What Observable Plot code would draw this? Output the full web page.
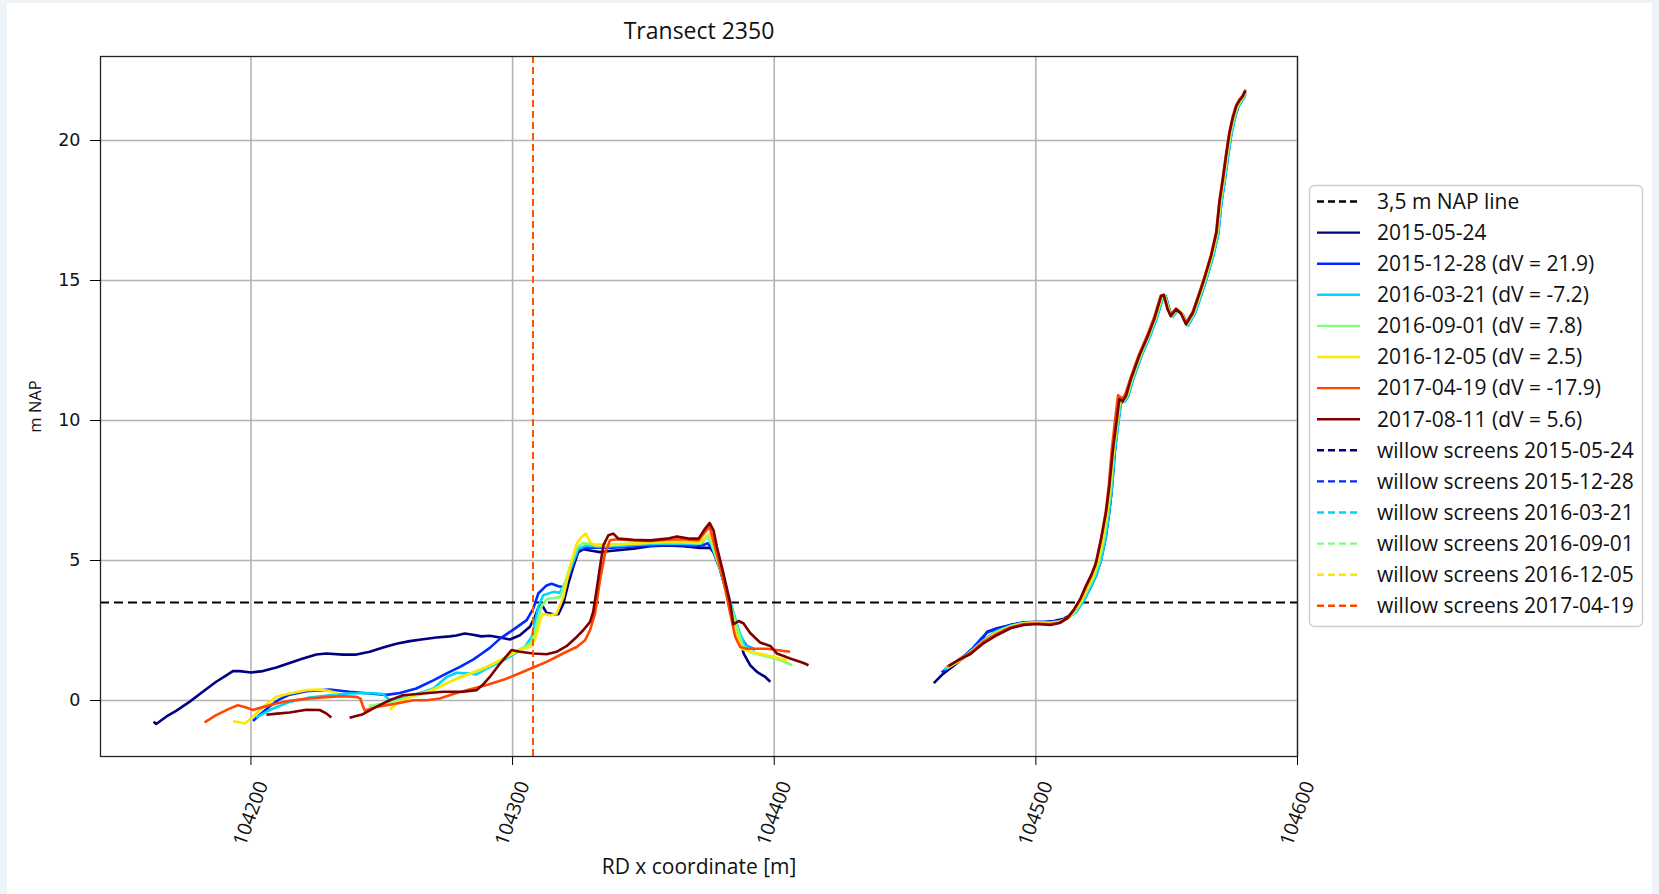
<!DOCTYPE html>
<html>
<head>
<meta charset="utf-8">
<script src="https://cdn.jsdelivr.net/npm/d3@7"></script>
<script src="https://cdn.jsdelivr.net/npm/@observablehq/plot@0.6"></script>
<style>
  html, body { margin: 0; padding: 0; background: #eef3f8; }
  #fig { position: relative; width: 1659px; height: 894px; background: #eef3f8; overflow: hidden; }
  #panel { position: absolute; left: 7px; top: 3px; width: 1645px; height: 891px; background: #fff; }
  #chart { position: absolute; left: 0; top: 0; }
  #legend { position: absolute; left: 0; top: 0; }
</style>
</head>
<body>
<div id="fig">
  <div id="panel"></div>
  <div id="chart"></div>
  <div id="legend"></div>
</div>
<script>
// Axis ticks and reference levels
const xTicks = [104200, 104300, 104400, 104500, 104600];
const yTicks = [0, 5, 10, 15, 20];
const napLevel = 3.5;

// Survey dates, volume change per survey and line colours (jet colormap)
const surveyDates = ["2015-05-24", "2015-12-28", "2016-03-21", "2016-09-01", "2016-12-05", "2017-04-19", "2017-08-11"];
const volumeChange = [null, 21.9, -7.2, 7.8, 2.5, -17.9, 5.6];
const surveyColors = ["#000080", "#0028ff", "#00d4ff", "#7dff7a", "#ffe600", "#ff4700", "#800000"];

// Willow screen positions (RD x) per survey
const willowDates = ["2015-05-24", "2015-12-28", "2016-03-21", "2016-09-01", "2016-12-05", "2017-04-19"];
const willowX = [104307.8, 104307.8, 104307.8, 104307.8, 104307.8, 104307.8];

// Cross-shore profiles: [RD x, m NAP]; null marks a gap in the survey
const profile20150524 = [
  [104162.8,-0.76],[104163.8,-0.84],[104167.6,-0.58],[104171.4,-0.37],[104176.5,-0.05],[104181.6,0.31],[104186.7,0.67],[104190.6,0.90],[104193.1,1.05],[104195.7,1.05],[104200,1.00],[104204.6,1.05],[104209.7,1.18],[104214.8,1.34],[104219.9,1.50],[104225,1.64],[104228.8,1.68],[104235.2,1.64],[104240.3,1.64],[104245.4,1.74],[104250.5,1.89],[104255.6,2.03],[104260.7,2.12],[104265.8,2.19],[104270.9,2.25],[104276,2.29],[104278.5,2.32],[104281.7,2.39],[104284.9,2.35],[104288.1,2.29],[104291.3,2.31],[104295.2,2.25],[104299,2.18],[104302.8,2.33],[104306.6,2.63],[104308.5,2.98],[104310.2,3.40],[104311.5,3.37],[104313,3.13],[104315.6,3.08],[104317.5,3.08],[104319.4,3.46],[104321.3,4.17],[104323.2,4.77],[104325.1,5.30],[104327,5.40],[104330.8,5.34],[104333.4,5.30],[104337.2,5.34],[104346.1,5.42],[104352.6,5.51],[104359,5.54],[104365.3,5.51],[104371.7,5.45],[104375.5,5.45],[104376.8,5.30],[104379.4,4.65],[104381.9,3.82],[104384.4,3.10],[104386.4,2.39],[104388.3,1.68],[104390.8,1.26],[104393.4,1.02],[104396.6,0.84],[104398.5,0.67],
  null,
  [104461,0.62],[104464.5,0.95],[104468.6,1.24],[104472,1.50],[104475,1.75],[104478.8,2.10],[104481.4,2.46],[104485.2,2.58],[104490.3,2.70],[104495.4,2.79],[104499.2,2.80],[104503.1,2.80],[104506.9,2.84],[104510.7,2.92],[104513.3,3.06],[104515.8,3.35],[104518.2,3.65],[104520.8,4.10],[104523.2,4.60],[104525.2,5.25],[104527,6.10],[104528.6,7.2],[104529.8,8.6],[104531,9.7],[104532.2,10.6],[104534,10.72],[104535,10.9],[104536.8,11.45],[104540,12.28],[104543.2,12.98],[104545.7,13.6],[104548.3,14.42],[104549.5,14.44],[104551.5,13.8],[104554,13.94],[104556,13.8],[104558,13.4],[104561.1,13.92],[104563,14.5],[104564.9,15.0],[104567.4,15.82],[104569.4,16.65],[104570.6,17.75],[104571.9,18.58],[104573.1,19.4],[104574.3,20.2],[104575.6,20.78],[104576.9,21.2],[104578.2,21.42],[104579.3,21.55],[104580.1,21.74]
];

const profile20151228 = [
  [104200.8,-0.73],[104203.3,-0.52],[104207,-0.22],[104210.5,0.02],[104214.8,0.21],[104221.2,0.33],[104230.1,0.39],[104237.7,0.31],[104245.4,0.25],[104251.8,0.20],[104256.9,0.27],[104263.2,0.43],[104269.7,0.72],[104275,0.98],[104279.9,1.20],[104284.9,1.46],[104288,1.66],[104291.3,1.88],[104295.2,2.21],[104300.3,2.53],[104305.4,2.87],[104307.9,3.28],[104309.8,3.82],[104313,4.11],[104314.9,4.17],[104317.5,4.08],[104319.4,4.05],[104321.3,4.41],[104323.2,4.95],[104325.1,5.42],[104330.8,5.46],[104338,5.46],[104346,5.50],[104354,5.54],[104362,5.56],[104370,5.52],[104373,5.55],[104374.5,5.62],[104376,5.45],[104378.5,4.95],[104381.5,4.0],[104384.5,3.05],[104387,2.3],[104389.5,1.95],[104392,1.85],
  null,
  [104464,1.0],[104468,1.28],[104472,1.55],[104476,1.88],[104479,2.2],[104481.5,2.44],[104485,2.55],[104490,2.68],[104495,2.78],[104500,2.8],[104505,2.8],[104509,2.84],[104512,2.94],[104515.5,3.2],[104518.4,3.58],[104520.8,4.02],[104523,4.45],[104525,5.05],[104526.7,5.8],[104528.1,6.75],[104529.2,7.7],[104530.2,8.9],[104531.4,9.85],[104532.6,10.74],[104533.9,10.68],[104535.2,10.86],[104537.1,11.46],[104540.3,12.3],[104543.5,12.99],[104546,13.61],[104548.6,14.41],[104549.6,14.44],[104551.1,13.94],[104552.2,13.71],[104554.3,13.94],[104556.2,13.78],[104558.1,13.39],[104560.7,13.81],[104563.2,14.48],[104565.1,15.03],[104567.7,15.85],[104569.7,16.67],[104570.9,17.77],[104572.2,18.59],[104573.4,19.41],[104574.7,20.23],[104576,20.79],[104577.3,21.19],[104578.6,21.41],[104579.6,21.54],[104580.1,21.66]
];

const profile20160321 = [
  [104202,-0.61],[104207.1,-0.34],[104214.8,-0.05],[104222.4,0.11],[104230.1,0.19],[104237.7,0.25],[104245.4,0.27],[104250.5,0.23],[104252.4,0.07],[104253.1,0.01],[104256,0.06],[104260.7,0.15],[104265,0.28],[104269.7,0.43],[104274.8,0.84],[104278.6,0.99],[104283.7,0.96],[104286.2,0.93],[104290.1,1.14],[104297.7,1.50],[104304.1,1.85],[104307.3,2.27],[104308.5,2.75],[104309.8,3.34],[104311.7,3.76],[104315.6,3.88],[104318.1,3.85],[104320.6,4.29],[104323.2,4.95],[104325.1,5.42],[104328.3,5.54],[104333.4,5.48],[104340,5.52],[104348,5.56],[104356,5.60],[104364,5.60],[104370,5.58],[104372.5,5.62],[104374.2,5.88],[104375.5,5.70],[104376.8,5.36],[104380.6,4.41],[104383.8,3.34],[104386.4,2.51],[104388.9,1.97],[104392.7,1.80],
  null,
  [104465,1.1],[104470,1.4],[104475,1.74],[104480,2.16],[104485,2.48],[104490,2.66],[104495,2.77],[104500,2.8],[104505,2.78],[104509,2.82],[104512,2.92],[104515.3,3.15],[104518.2,3.55],[104520.5,3.98],[104522.7,4.4],[104524.8,4.98],[104526.5,5.72],[104527.9,6.68],[104529.1,7.62],[104530.1,8.85],[104531.4,9.82],[104532.6,10.72],[104533.9,10.67],[104535.2,10.85],[104537.1,11.45],[104540.3,12.3],[104543.5,12.98],[104546,13.6],[104548.6,14.4],[104549.6,14.43],[104551.1,13.93],[104552.2,13.7],[104554.3,13.93],[104556.2,13.77],[104558.1,13.38],[104560.7,13.8],[104563.2,14.47],[104565.1,15.02],[104567.7,15.84],[104569.7,16.66],[104570.9,17.76],[104572.2,18.58],[104573.4,19.4],[104574.7,20.22],[104576,20.78],[104577.3,21.18],[104578.6,21.4],[104579.6,21.53],[104580.1,21.65]
];

const profile20160901 = [
  [104245,-0.2],[104250,-0.12],[104255,-0.02],[104260,0.1],[104265,0.22],[104270,0.42],[104275,0.62],[104280,0.85],[104285,1.0],[104290,1.18],[104295,1.42],[104300,1.68],[104304,1.9],[104307,2.05],[104308.5,2.4],[104309.6,2.9],[104311,3.35],[104313,3.62],[104316,3.66],[104318.2,3.7],[104320.2,4.25],[104322.5,4.95],[104324.8,5.5],[104327,5.62],[104330,5.58],[104336,5.56],[104344,5.6],[104352,5.64],[104360,5.66],[104368,5.64],[104372,5.62],[104374.2,5.82],[104375.5,5.75],[104377,5.35],[104380,4.5],[104383,3.5],[104385.8,2.6],[104388,1.95],[104391,1.72],[104398,1.55],[104403,1.42],[104406.8,1.26],
  null,
  [104466,1.15],[104470,1.37],[104475,1.7],[104480,2.12],[104485,2.44],[104490,2.64],[104495,2.76],[104500,2.79],[104505,2.77],[104509,2.82],[104512,2.93],[104515,3.18],[104517.8,3.58],[104520,4.0],[104522.2,4.42],[104524.2,4.98],[104526,5.75],[104527.5,6.7],[104528.7,7.65],[104529.8,8.88],[104531.1,9.85],[104532.3,10.75],[104533.6,10.7],[104534.9,10.88],[104536.8,11.48],[104540,12.32],[104543.2,13.01],[104545.7,13.62],[104548.3,14.42],[104549.3,14.45],[104550.8,13.96],[104551.9,13.72],[104554,13.96],[104555.9,13.8],[104557.8,13.4],[104560.4,13.82],[104562.9,14.5],[104564.8,15.04],[104567.4,15.86],[104569.4,16.68],[104570.6,17.78],[104571.9,18.6],[104573.1,19.42],[104574.4,20.24],[104575.7,20.8],[104577,21.2],[104578.3,21.42],[104579.4,21.55],[104580,21.68]
];

const profile20161205 = [
  [104193.1,-0.74],[104195.5,-0.78],[104197.6,-0.82],[104200.8,-0.58],[104204.6,-0.23],[104209.7,0.13],[104214.8,0.25],[104221.2,0.37],[104226.3,0.39],[104230.1,0.34],[104233,0.25],
  null,
  [104253.1,-0.34],[104255.6,-0.11],[104260.7,0.13],[104265,0.25],[104269.7,0.37],[104276,0.67],[104282.4,0.90],[104290.1,1.20],[104297.7,1.56],[104302.8,1.80],[104306.6,1.91],[104308.5,2.15],[104309.8,2.57],[104310.5,2.87],[104311.7,3.10],[104314.3,3.04],[104316.8,3.10],[104319.4,3.70],[104321.9,4.77],[104324.5,5.60],[104326.4,5.84],[104328,5.96],[104329.6,5.66],[104331.5,5.54],[104335.9,5.54],[104342,5.58],[104350,5.62],[104358,5.66],[104365,5.66],[104371,5.62],[104373.5,5.80],[104375,5.94],[104376.5,5.70],[104378.1,5.24],[104381.9,3.82],[104385.1,2.51],[104387.6,1.85],[104390.8,1.74],[104397.2,1.62],[104404.8,1.44],
  null,
  [104466,1.18],[104470,1.38],[104475,1.72],[104480,2.12],[104485,2.42],[104490,2.62],[104495,2.74],[104500,2.77],[104505,2.75],[104509,2.8],[104512,2.93],[104514.8,3.2],[104517.5,3.6],[104519.6,4.02],[104521.8,4.45],[104523.8,5.0],[104525.6,5.78],[104527.2,6.72],[104528.4,7.68],[104529.6,8.9],[104530.9,9.88],[104532.1,10.78],[104533.4,10.72],[104534.7,10.9],[104536.6,11.5],[104539.8,12.34],[104543,13.03],[104545.5,13.64],[104548.1,14.44],[104549.1,14.47],[104550.6,13.99],[104551.7,13.76],[104553.8,13.99],[104555.7,13.84],[104557.6,13.45],[104560.2,13.86],[104562.7,14.52],[104564.6,15.06],[104567.2,15.88],[104569.2,16.7],[104570.4,17.8],[104571.7,18.62],[104572.9,19.44],[104574.2,20.26],[104575.5,20.81],[104576.8,21.22],[104578.1,21.43],[104579.3,21.57],[104580,21.7]
];

const profile20170419 = [
  [104182.3,-0.78],[104186.7,-0.52],[104191.8,-0.29],[104195,-0.17],[104197.6,-0.23],[104200.8,-0.34],[104204.6,-0.23],[104209.7,-0.11],[104214.8,-0.01],[104222.4,0.07],[104230.1,0.13],[104235.2,0.15],[104240.3,0.13],[104241.8,0.07],[104242.6,-0.15],[104243.5,-0.36],[104248,-0.23],[104255.6,-0.11],[104262,0.01],[104267.1,0.01],[104272.2,0.07],[104277,0.22],[104282.4,0.37],[104290.1,0.55],[104297.7,0.78],[104305.4,1.08],[104313,1.38],[104320.6,1.74],[104324.5,1.91],[104327.7,2.15],[104329.6,2.51],[104331.5,3.10],[104333.4,4.29],[104335.3,5.24],[104337.2,5.72],[104339.8,5.76],[104346,5.72],[104352.5,5.70],[104359,5.74],[104365,5.76],[104371,5.72],[104373.5,6.00],[104375.3,6.22],[104377.4,5.48],[104380.6,4.29],[104383.2,3.10],[104385.1,2.27],[104387,1.91],[104389.5,1.85],[104397.2,1.85],[104406.1,1.74],
  null,
  [104466,1.2],[104470,1.42],[104475,1.7],[104480,2.1],[104485,2.38],[104490,2.6],[104495,2.72],[104500,2.75],[104505,2.72],[104509,2.78],[104512,2.95],[104514.5,3.25],[104517,3.62],[104519,4.02],[104521.2,4.45],[104523.2,5.0],[104525,5.8],[104526.7,6.75],[104527.9,7.7],[104529,8.95],[104530.2,9.95],[104531.4,10.9],[104533,10.78],[104534.2,10.95],[104536.2,11.52],[104539.4,12.36],[104542.6,13.05],[104545.1,13.66],[104547.7,14.45],[104548.8,14.47],[104550.3,13.98],[104551.5,13.78],[104553.5,14.0],[104555.4,13.85],[104557.3,13.48],[104559.9,13.88],[104562.4,14.55],[104564.3,15.09],[104566.9,15.9],[104568.9,16.72],[104570.1,17.82],[104571.4,18.65],[104572.6,19.47],[104573.9,20.28],[104575.2,20.84],[104576.5,21.25],[104577.8,21.46],[104579,21.6],[104580.2,21.82]
];

const profile20170811 = [
  [104205.9,-0.51],[104210,-0.47],[104214.8,-0.43],[104221.2,-0.33],[104226.3,-0.34],[104228.8,-0.46],[104230.7,-0.61],
  null,
  [104237.7,-0.62],[104242.8,-0.49],[104247.9,-0.23],[104253,0.01],[104258.1,0.19],[104265.8,0.25],[104273.4,0.31],[104281.1,0.31],[104286.2,0.37],[104288.5,0.55],[104291.3,0.84],[104295.2,1.32],[104299.6,1.80],[104302.8,1.74],[104307.9,1.68],[104313,1.65],[104316.8,1.74],[104320.6,1.94],[104324.5,2.27],[104327,2.51],[104329.6,2.81],[104330.8,3.16],[104332.1,3.94],[104333.4,4.77],[104334.7,5.54],[104336.6,5.90],[104338.5,5.96],[104340.4,5.78],[104346.1,5.74],[104352.5,5.72],[104359,5.78],[104362.8,5.86],[104367.9,5.78],[104371.1,5.78],[104373.6,6.14],[104375.3,6.34],[104376.8,6.08],[104378.1,5.48],[104380.6,4.53],[104383.2,3.46],[104384.4,2.72],[104386.4,2.84],[104388.3,2.75],[104390.8,2.41],[104394.6,2.07],[104398.5,1.95],[104401,1.68],[104406.1,1.50],[104411.2,1.34],[104413.1,1.26],
  null,
  [104466.7,1.24],[104470.6,1.45],[104475,1.66],[104480.1,2.05],[104485.2,2.34],[104490.3,2.58],[104495.4,2.70],[104500.5,2.73],[104505.6,2.70],[104509.4,2.78],[104512,2.94],[104514.5,3.23],[104517.1,3.65],[104519,4.07],[104521,4.45],[104522.8,4.85],[104524.9,5.76],[104526.8,6.71],[104528.1,7.67],[104529.4,8.91],[104530.7,9.86],[104531.9,10.76],[104533.2,10.69],[104534.5,10.89],[104536.4,11.50],[104539.6,12.33],[104542.8,13.02],[104545.3,13.63],[104547.9,14.45],[104548.9,14.49],[104550.4,13.97],[104551.5,13.73],[104553.6,13.97],[104555.5,13.81],[104557.4,13.43],[104560,13.84],[104562.5,14.52],[104564.4,15.07],[104567,15.89],[104569,16.71],[104570.2,17.81],[104571.5,18.63],[104572.7,19.45],[104574,20.27],[104575.3,20.82],[104576.6,21.23],[104577.9,21.44],[104579.1,21.58],[104580,21.78]
];

const profiles = [profile20150524, profile20151228, profile20160321, profile20160901, profile20161205, profile20170419, profile20170811];

// Flatten to rows; a gap becomes a NaN point so the line breaks there
function rows(profile, date) {
  return profile.map(p => p ? {date, x: p[0], y: p[1]} : {date, x: NaN, y: NaN});
}

const W = 1659, H = 894;
const frame = {left: 100, right: 1297, top: 56, bottom: 756};
const gridStyle = {stroke: "#b4b4b4", strokeOpacity: 1, strokeWidth: 1.6};

const marks = [
  Plot.gridX(xTicks, {...gridStyle}),
  Plot.gridY(yTicks, {...gridStyle}),
  Plot.ruleY([napLevel], {stroke: "#000", strokeWidth: 2, strokeDasharray: "9,5"}),
  ...profiles.map((p, i) => Plot.line(rows(p, surveyDates[i]), {
    x: "x", y: "y", stroke: surveyColors[i], strokeWidth: 2.6, strokeLinejoin: "round", strokeLinecap: "butt"
  })),
  ...willowX.map((x, i) => Plot.ruleX([x], {stroke: surveyColors[i], strokeWidth: 1.8, strokeDasharray: "7,4"})),
  Plot.frame({stroke: "#222", strokeWidth: 1.3}),
  Plot.axisY(yTicks, {tickSize: 10, tickPadding: 10, fontSize: 17.5, fontFamily: "DejaVu Sans", fill: "#111", label: null, tickFormat: d => String(d)}),
  Plot.axisX(xTicks, {tickSize: 9, tickFormat: () => "", label: null}),
  Plot.text(xTicks, {x: d => d, text: d => String(d), frameAnchor: "bottom", dy: 57, rotate: -70,
    textAnchor: "middle", lineAnchor: "middle", fontSize: 19.5, fontFamily: "Open Sans", fill: "#111"}),
  Plot.text(["Transect 2350"], {text: d => d, frameAnchor: "top", dy: -25, lineAnchor: "middle",
    fontSize: 23, fontFamily: "Open Sans", fill: "#111"}),
  Plot.text(["RD x coordinate [m]"], {text: d => d, frameAnchor: "bottom", dy: 111, lineAnchor: "middle",
    fontSize: 21, fontFamily: "Open Sans", fill: "#111"}),
  Plot.text(["m NAP"], {text: d => d, frameAnchor: "left", dx: -64.5, dy: 0, rotate: -90,
    textAnchor: "middle", lineAnchor: "middle", fontSize: 16.5, fontFamily: "Open Sans", fill: "#111"})
];

const chart = Plot.plot({
  width: W,
  height: H,
  marginLeft: frame.left,
  marginRight: W - frame.right,
  marginTop: frame.top,
  marginBottom: H - frame.bottom,
  style: {background: "transparent", overflow: "visible"},
  x: {domain: [104142.5, 104600]},
  y: {domain: [-2, 23]},
  marks
});
document.getElementById("chart").appendChild(chart);

// Legend box to the right of the axes
const legendItems = [
  {label: "3,5 m NAP line", color: "#000", dash: "7,4"},
  ...surveyDates.map((d, i) => ({
    label: volumeChange[i] == null ? d : `${d} (dV = ${volumeChange[i]})`,
    color: surveyColors[i], dash: null
  })),
  ...willowDates.map((d, i) => ({label: `willow screens ${d}`, color: surveyColors[i], dash: "7,4"}))
];

const box = {x: 1309, y: 185, w: 333, h: 441};
const rowTop = 201.5, rowStep = 31.1;
const lg = d3.select("#legend").append("svg")
  .attr("width", W).attr("height", H)
  .style("display", "block");
lg.append("rect")
  .attr("x", box.x + 0.5).attr("y", box.y + 0.5)
  .attr("width", box.w).attr("height", box.h)
  .attr("rx", 5).attr("fill", "#fff").attr("fill-opacity", 0.85)
  .attr("stroke", "#cfcfcf").attr("stroke-width", 1.4);
const row = lg.selectAll("g.item").data(legendItems).join("g")
  .attr("transform", (d, i) => `translate(0,${rowTop + i * rowStep})`);
row.append("line")
  .attr("x1", 1317).attr("x2", 1360).attr("y1", 0).attr("y2", 0)
  .attr("stroke", d => d.color).attr("stroke-width", 2.4)
  .attr("stroke-dasharray", d => d.dash);
row.append("text")
  .attr("x", 1377).attr("y", 0).attr("dy", "0.35em")
  .attr("font-family", "Open Sans").attr("font-size", 21).attr("fill", "#111")
  .text(d => d.label);
</script>
</body>
</html>
